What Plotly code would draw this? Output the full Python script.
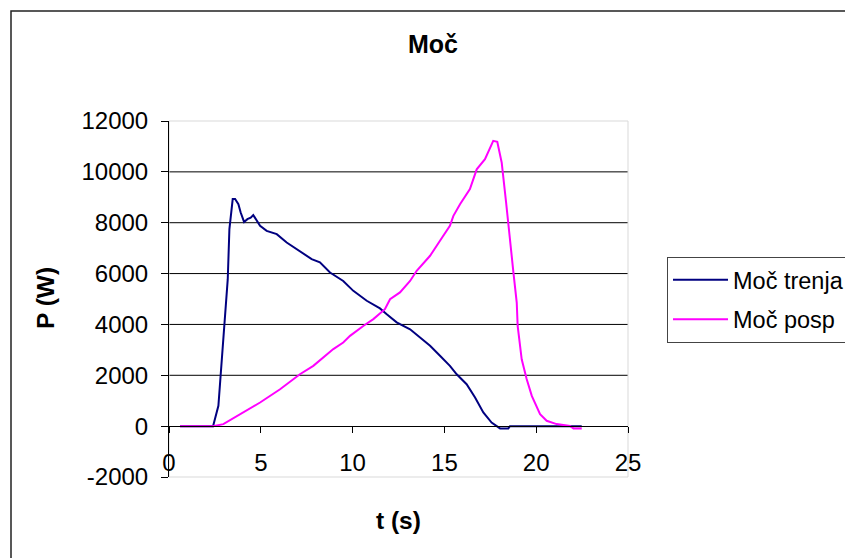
import plotly.graph_objects as go

# ---- data ----
trenja_t = [0.6, 1.0, 1.5, 2.0, 2.4, 2.69, 2.87, 3.01, 3.2, 3.29, 3.38, 3.47, 3.6, 3.78, 3.9,
            4.09, 4.27, 4.45, 4.59, 4.78, 4.96, 5.32, 5.87, 6.41, 7.13, 7.77, 8.22, 8.77, 9.49,
            10.04, 10.77, 11.49, 11.86, 12.4, 13.13, 13.67, 14.22, 14.76, 15.3, 15.67, 16.21,
            16.67, 17.12, 17.57, 18.03, 18.48, 18.57, 19.5, 20.5, 21.5, 22.48]
trenja_P = [0, 0, 0, 0, 0, 800, 2630, 4090, 5780, 7750, 8410, 8930, 8930, 8730, 8410,
            8030, 8140, 8200, 8300, 8070, 7880, 7680, 7550, 7220, 6890, 6570, 6440, 6040, 5710,
            5320, 4930, 4630, 4400, 4080, 3810, 3490, 3160, 2770, 2370, 2040, 1650,
            1130, 540, 140, -90, -90, 0, 0, 0, 0, 0]

posp_t = [0.6, 1.0, 1.5, 2.0, 2.4, 2.96, 3.87, 4.96, 6.05, 7.13, 7.86, 8.4, 8.95, 9.49, 9.86,
          10.58, 11.13, 11.76, 12.04, 12.58, 13.13, 13.49, 14.22, 14.76, 15.3, 15.49, 15.85,
          16.39, 16.76, 17.21, 17.66, 17.88, 18.12, 18.36, 18.54, 18.76, 18.94, 18.99, 19.21,
          19.48, 19.76, 20.21, 20.57, 21.11, 21.84, 22.03, 22.48]
posp_P = [0, 0, 0, 0, 0, 80, 470, 930, 1450, 2040, 2370, 2700, 3030, 3290, 3550,
          3940, 4210, 4600, 4990, 5260, 5710, 6110, 6700, 7290, 7880, 8270, 8730,
          9320, 10100, 10500, 11220, 11180, 10370, 8800, 7480, 6040, 4860, 3940, 2630,
          1850, 1190, 470, 210, 80, 10, -90, -90]

series_names = ["Moč trenja", "Moč posp"]
series_colors = ["#000080", "#ff00ff"]

x_ticks = [0, 5, 10, 15, 20, 25]
y_ticks = [-2000, 0, 2000, 4000, 6000, 8000, 10000, 12000]
grid_vals = [2000, 4000, 6000, 8000, 10000]
x_range = [0, 25]
y_range = [-2000, 12000]

FONT = "Liberation Sans, Arial, sans-serif"

fig = go.Figure()
for i, (tt, pp) in enumerate([(trenja_t, trenja_P), (posp_t, posp_P)]):
    fig.add_trace(go.Scatter(x=tt, y=pp, mode="lines", name=series_names[i],
                             legendgroup=f"g{i}",
                             line=dict(color=series_colors[i], width=2)))

shapes = []
# gridlines (black) in data coordinates
for g in grid_vals:
    shapes.append(dict(type="line", xref="paper", yref="y", x0=0, x1=1, y0=g, y1=g,
                       line=dict(color="black", width=1), layer="below"))
# light plot-area border
shapes.append(dict(type="rect", xref="paper", yref="paper", x0=0, x1=1, y0=0, y1=1,
                   line=dict(color="#d9d9d9", width=1), layer="below"))
# outer chart border
shapes.append(dict(type="rect", xref="paper", yref="paper",
                   x0=(11 - 169) / 459, x1=2.0, y0=-1.0, y1=(477 - 11) / 356,
                   line=dict(color="#222222", width=1.5), layer="below"))

zero_pos = (0 - y_range[0]) / (y_range[1] - y_range[0])

fig.update_layout(
    width=845, height=558,
    margin=dict(l=169, r=217, t=121, b=81, pad=0, autoexpand=False),
    paper_bgcolor="white", plot_bgcolor="white",
    font=dict(family=FONT, size=24, color="black"),
    title=dict(text="<b>Moč</b>", x=(433 - 169) / 459, xref="paper", xanchor="center",
               y=(558 - 44) / 558, yanchor="middle", yref="container",
               font=dict(size=25, family=FONT, color="black")),
    xaxis=dict(range=x_range, tickvals=x_ticks, ticktext=[str(v) for v in x_ticks],
               showgrid=False, zeroline=False, showline=True, linecolor="black",
               linewidth=1, ticks="outside", ticklen=6, tickcolor="black",
               anchor="free", position=zero_pos, ticklabelstandoff=9,
               tickfont=dict(size=24, family=FONT)),
    yaxis=dict(range=y_range, tickvals=y_ticks, ticktext=[str(v) for v in y_ticks],
               showgrid=False, zeroline=False, showline=True, linecolor="black",
               linewidth=1, ticks="outside", ticklen=7, tickcolor="black",
               ticklabelstandoff=8,
               tickfont=dict(size=24, family=FONT)),
    shapes=shapes,
    annotations=[
        dict(text="<b>P (W)</b>", xref="paper", yref="paper",
             x=(45 - 169) / 459, y=(477 - 298) / 356, textangle=-90,
             showarrow=False, xanchor="center", yanchor="middle",
             font=dict(size=24.5, family=FONT, color="black")),
        dict(text="<b>t (s)</b>", xref="paper", yref="paper",
             x=(398 - 169) / 459, y=(477 - 520) / 356,
             showarrow=False, xanchor="center", yanchor="middle",
             font=dict(size=24.5, family=FONT, color="black")),
    ],
    legend=dict(x=(667 - 169) / 459, y=(477 - 257) / 356, xanchor="left", yanchor="top",
                bordercolor="#444444", borderwidth=1, bgcolor="white",
                font=dict(size=23.5, family=FONT), traceorder="grouped",
                tracegroupgap=6, itemwidth=55),
    showlegend=True,
)

fig.write_html("out.html")
